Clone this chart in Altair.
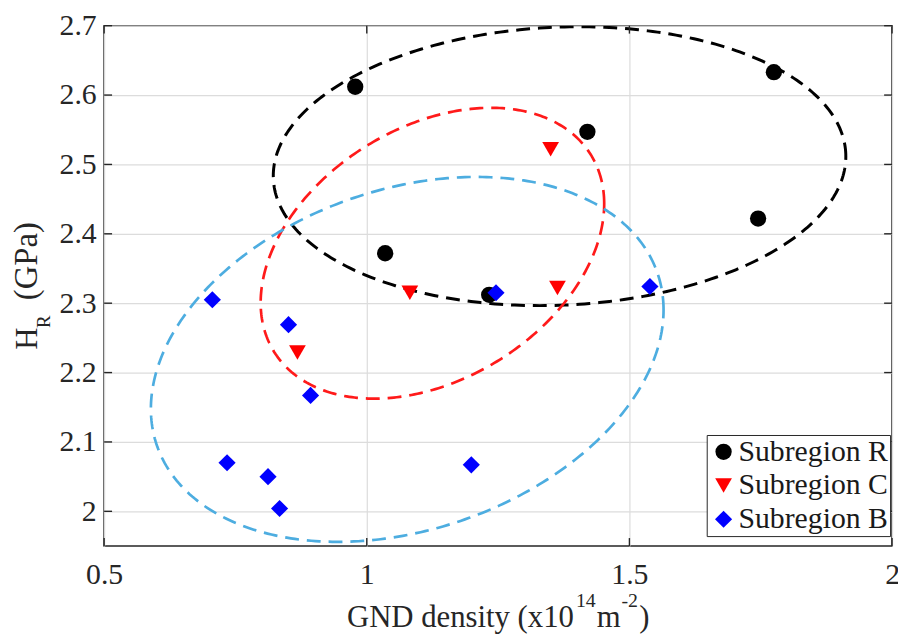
import numpy as np
import pandas as pd
import altair as alt

FONT = "Liberation Serif"
INK = "#262626"

# ---------------- data ----------------
groups = ["Subregion R", "Subregion C", "Subregion B"]
marker_colors = ["#000000", "#ff0000", "#0000ff"]
marker_shapes = ["circle", "triangle-down", "diamond"]
marker_sizes = [270, 300, 420]

r_x = [0.978, 1.035, 1.233, 1.420, 1.745, 1.775]
r_y = [2.612, 2.372, 2.312, 2.547, 2.422, 2.633]

c_x = [0.868, 1.082, 1.350, 1.363]
c_y = [2.229, 2.315, 2.522, 2.322]

b_x = [0.706, 0.734, 0.812, 0.834, 0.851, 0.893, 1.199, 1.246, 1.539]
b_y = [2.305, 2.070, 2.050, 2.004, 2.269, 2.167, 2.067, 2.315, 2.324]

# fitted ellipses (R, C, B): centre, half-width, half-height, correlation
ell_cx = [1.367, 1.125, 1.077]
ell_cy = [2.4975, 2.372, 2.219]
ell_rx = [0.545, 0.327, 0.488]
ell_ry = [0.201, 0.2096, 0.263]
ell_rho = [0.07, 0.34, 0.271]
ell_colors = ["#000000", "#ff1a1a", "#4dade0"]
ell_widths = [3.0, 2.7, 2.7]

x_ticks = [0.5, 1, 1.5, 2]
y_ticks = [2.0, 2.1, 2.2, 2.3, 2.4, 2.5, 2.6, 2.7]
x_domain = [0.5, 2.0]
y_domain = [1.95, 2.7]

W, H = 795, 525

# ---------------- tables ----------------
pts = pd.concat([
    pd.DataFrame({"x": r_x, "y": r_y, "g": groups[0]}),
    pd.DataFrame({"x": c_x, "y": c_y, "g": groups[1]}),
    pd.DataFrame({"x": b_x, "y": b_y, "g": groups[2]}),
], ignore_index=True)

t = np.linspace(0, 2 * np.pi, 361)


def ellipse_df(i):
    rho = ell_rho[i]
    return pd.DataFrame({
        "t": t,
        "x": ell_cx[i] + ell_rx[i] * np.cos(t),
        "y": ell_cy[i] + ell_ry[i] * (rho * np.cos(t) + np.sqrt(1 - rho ** 2) * np.sin(t)),
    })


def X(field="x"):
    return alt.X(f"{field}:Q", scale=alt.Scale(domain=x_domain, nice=False, zero=False),
                 axis=alt.Axis(values=x_ticks, format="~g", title=None, labelPadding=14,
                               labelFlush=False, labelFont=FONT))


def Y(field="y"):
    return alt.Y(f"{field}:Q", scale=alt.Scale(domain=y_domain, nice=False, zero=False),
                 axis=alt.Axis(values=y_ticks, format="~g", title=None, labelPadding=8,
                               labelFlush=False, labelFont=FONT))


layers = []

# ellipses
for i in range(3):
    layers.append(
        alt.Chart(ellipse_df(i)).mark_line(
            strokeDash=[14, 8], strokeWidth=ell_widths[i], color=ell_colors[i], clip=True
        ).encode(x=X(), y=Y(), order=alt.Order("t:Q"))
    )

# inward ticks
xt = pd.DataFrame({"v": x_ticks})
yt = pd.DataFrame({"v": y_ticks})
TL = 8
tick_style = dict(color=INK, strokeWidth=1.4)
layers.append(alt.Chart(xt).mark_rule(**tick_style).encode(x=X("v"), y=alt.value(H - TL), y2=alt.value(H)))
layers.append(alt.Chart(xt).mark_rule(**tick_style).encode(x=X("v"), y=alt.value(0), y2=alt.value(TL)))
layers.append(alt.Chart(yt).mark_rule(**tick_style).encode(y=Y("v"), x=alt.value(0), x2=alt.value(TL)))
layers.append(alt.Chart(yt).mark_rule(**tick_style).encode(y=Y("v"), x=alt.value(W - TL), x2=alt.value(W)))

# points
legend = alt.Legend(
    title=None, orient="none", legendX=608, legendY=413,
    labelFont=FONT, labelFontSize=30, labelColor="#1a1a1a",
    symbolSize=270, symbolStrokeWidth=0, padding=2, rowPadding=4, labelOffset=0,
    strokeColor=INK, fillColor="white",
)
layers.append(
    alt.Chart(pts).mark_point(filled=True, opacity=1, strokeWidth=0).encode(
        x=X(), y=Y(),
        color=alt.Color("g:N", scale=alt.Scale(domain=groups, range=marker_colors), legend=legend),
        shape=alt.Shape("g:N", scale=alt.Scale(domain=groups, range=marker_shapes), legend=legend),
        size=alt.Size("g:N", scale=alt.Scale(domain=groups, range=marker_sizes), legend=None),
    )
)


# axis titles built from text pieces (superscripts / subscript)
def piece(txt, x, y, size, angle=0):
    return alt.Chart(alt.Data(values=[{}])).mark_text(
        text=txt, font=FONT, fontSize=size, align="left", baseline="alphabetic",
        angle=angle, color=INK
    ).encode(x=alt.value(x), y=alt.value(y))


OX, OY = 105, 23  # page position of plot origin
BL = 630          # x-title baseline on the page
# x title
layers.append(piece("GND density (x10", 350 - OX, BL - OY, 31))
layers.append(piece("14", 581 - OX, BL - 20 - OY, 20))
layers.append(piece("m", 602 - OX, BL - OY, 31))
layers.append(piece("-2", 627 - OX, BL - 20 - OY, 20))
layers.append(piece(")", 645 - OX, BL - OY, 31))
# y title
layers.append(piece("H", 37 - OX, 350 - OY, 31, angle=270))
layers.append(piece("R", 50 - OX, 328 - OY, 19, angle=270))
layers.append(piece("(GPa)", 37 - OX, 300 - OY, 33, angle=270))

chart = alt.layer(*layers).properties(
    width=W, height=H,
    autosize=alt.AutoSizeParams(type="none"),
    padding={"left": 97, "top": 15, "right": 6, "bottom": 92},
).configure(
    font=FONT
).configure_view(
    stroke=INK, strokeWidth=1.6
).configure_axis(
    domain=False, ticks=False, grid=True, gridColor="#dcdcdc", gridWidth=1.2,
    labelFont=FONT, labelFontSize=30, labelColor=INK,
).configure_legend(
    labelFont=FONT
)

chart.save("out.html", embed_options={"renderer": "svg", "actions": False})
